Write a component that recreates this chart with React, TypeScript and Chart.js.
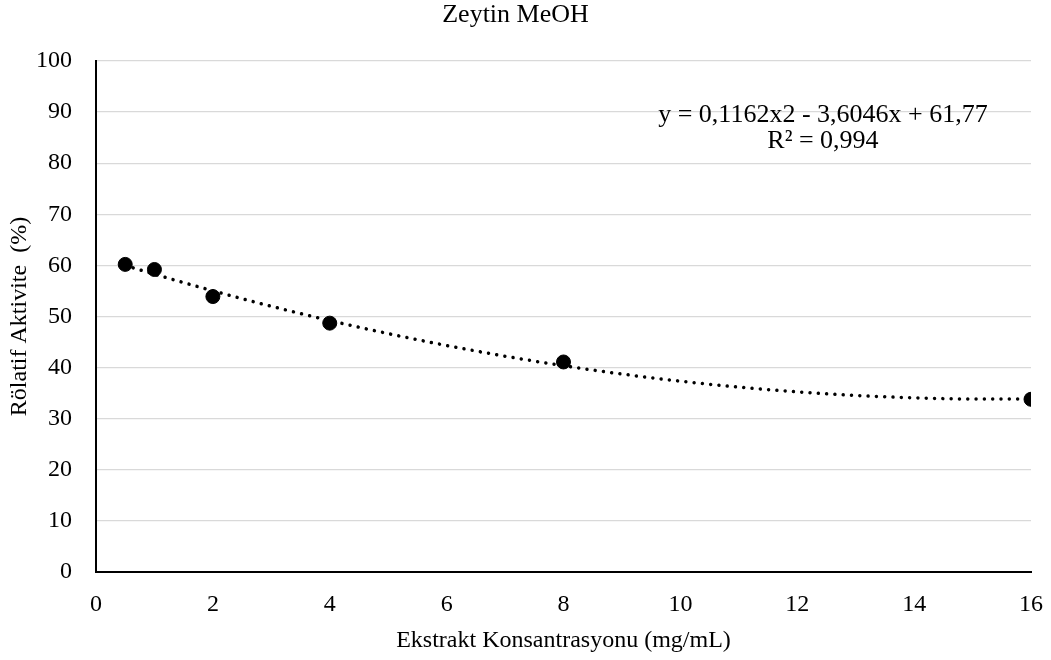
import React, { useEffect, useRef } from "react";
import { Chart, registerables } from "chart.js";

Chart.register(...registerables);

const TITLE = "Zeytin MeOH";
const X_TITLE = "Ekstrakt Konsantrasyonu (mg/mL)";
const Y_TITLE = "Rölatif Aktivite  (%)";

const concentrations = [0.5, 1, 2, 4, 8, 16];
const activity = [60.2, 59.2, 53.9, 48.7, 41.1, 33.8];

// dotted polynomial trendline
const trendX = [0.5, 1, 2, 3, 4, 5, 6, 7, 8, 9, 10, 11, 12, 13, 14, 15, 16];
const trendY = [59.99, 58.28, 55.03, 52.0, 49.21, 46.65, 44.32, 42.23, 40.37, 38.74, 37.34, 36.18, 35.25, 34.55, 34.09, 33.85, 33.85];

const equationLines = ["y = 0,1162x2 - 3,6046x + 61,77", "R² = 0,994"];
const equationAnchor = { x: 12.44, y: 89.4 };

const xTicks = [0, 2, 4, 6, 8, 10, 12, 14, 16];
const yTicks = [0, 10, 20, 30, 40, 50, 60, 70, 80, 90, 100];

const FONT = "'Liberation Serif', 'Times New Roman', serif";

const equationPlugin = {
  id: "equationLabel",
  afterDatasetsDraw(chart: any) {
    const { ctx, scales } = chart;
    const cx = scales.x.getPixelForValue(equationAnchor.x);
    const cy = scales.y.getPixelForValue(equationAnchor.y);
    ctx.save();
    ctx.font = `26px ${FONT}`;
    ctx.fillStyle = "#000";
    ctx.textAlign = "center";
    ctx.textBaseline = "middle";
    equationLines.forEach((t, i) => ctx.fillText(t, cx, cy + i * 26));
    ctx.restore();
  },
};

export default function App() {
  const ref = useRef<HTMLCanvasElement | null>(null);
  useEffect(() => {
    if (!ref.current) return;
    const chart = new Chart(ref.current, {
      type: "scatter",
      data: {
        datasets: [
          {
            label: "points",
            data: concentrations.map((x, i) => ({ x, y: activity[i] })),
            backgroundColor: "#000",
            borderColor: "#000",
            pointRadius: 7,
            pointBorderWidth: 1,
            showLine: false,
            order: 0,
          },
          {
            label: "trend",
            type: "line",
            data: trendX.map((x, i) => ({ x, y: trendY[i] })),
            borderColor: "#000",
            borderWidth: 3.5,
            borderDash: [0.01, 8.3],
            borderCapStyle: "round",
            pointRadius: 0,
            fill: false,
            cubicInterpolationMode: "monotone",
            order: 1,
          },
        ],
      },
      options: {
        animation: false,
        responsive: true,
        maintainAspectRatio: false,
        layout: { padding: { left: 0, right: 20, top: 0, bottom: 0 } },
        plugins: {
          legend: { display: false },
          tooltip: { enabled: false },
          title: {
            display: true,
            text: TITLE,
            color: "#000",
            font: { family: FONT, size: 26, weight: "normal", lineHeight: 1.2 },
            padding: { top: 0, bottom: 29.8 },
          },
        },
        scales: {
          x: {
            type: "linear",
            min: 0,
            max: 16,
            afterBuildTicks: (s: any) => {
              s.ticks = xTicks.map((v) => ({ value: v }));
            },
            afterFit: (s: any) => {
              s.height = 88;
              s.paddingLeft = 0;
              s.paddingRight = 0;
            },
            grid: { display: false, drawTicks: false },
            border: { display: true, color: "#000", width: 2 },
            ticks: { color: "#000", font: { family: FONT, size: 24 }, padding: 18, maxRotation: 0 },
            title: {
              display: true,
              text: X_TITLE,
              color: "#000",
              font: { family: FONT, size: 24, lineHeight: 1.2 },
              padding: { top: 0, bottom: 4.6 },
            },
          },
          y: {
            type: "linear",
            min: 0,
            max: 100,
            afterBuildTicks: (s: any) => {
              s.ticks = yTicks.map((v) => ({ value: v }));
            },
            afterFit: (s: any) => {
              s.width = 96;
            },
            grid: { color: "#d9d9d9", lineWidth: 1.3, drawTicks: false },
            border: { display: true, color: "#000", width: 2 },
            ticks: { color: "#000", font: { family: FONT, size: 24 }, padding: 24 },
            title: {
              display: true,
              text: Y_TITLE,
              color: "#000",
              font: { family: FONT, size: 24, lineHeight: 1.2 },
              padding: { top: 5.6, bottom: 0 },
            },
          },
        },
      },
      plugins: [equationPlugin],
    } as any);
    return () => chart.destroy();
  }, []);
  return (
    <div style={{ position: "absolute", left: 0, top: 0, width: 1051, height: 660 }}>
      <canvas ref={ref} />
    </div>
  );
}
